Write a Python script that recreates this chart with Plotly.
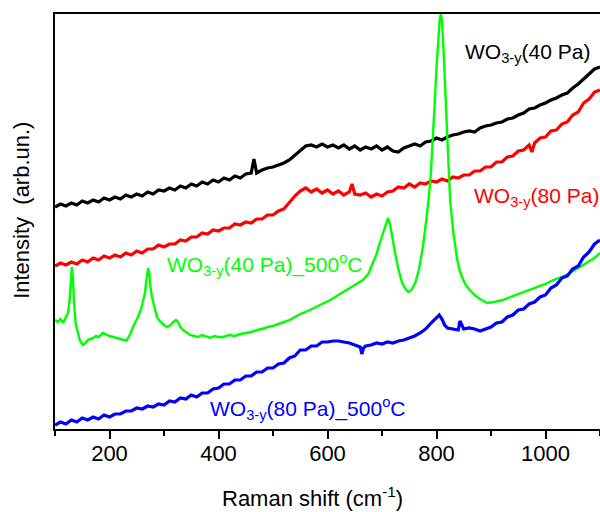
import plotly.graph_objects as go

# ---------------- data ----------------
black_x = [100,110,120,130,140,150,160,170,180,190,200,210,220,230,240,250,260,270,280,290,
           300,310,320,330,340,350,360,370,380,390,400,410,420,430,440,450,460,465,470,480,490,
           500,510,520,530,540,550,560,570,580,590,600,610,620,630,640,650,660,670,680,690,
           700,710,720,730,740,750,760,770,780,790,800,810,820,830,840,850,860,870,880,890,
           900,910,920,930,940,950,960,970,980,990,1000,1010,1020,1030,1040,1050,1060,1070,1080,1090,1100]
black_y = [222,225,223,226,224,228,226,229,227,231,229,232,230,234,232,235,233,237,235,239,
           238,241,239,243,241,245,243,247,245,249,247,251,249,253,251,255,256,270,256,259,261,
           262,264,266,269,274,279,283,284,282,285,282,284,281,284,280,283,279,282,280,283,
           279,282,278,277,281,283,285,283,287,288,291,289,292,294,295,297,298,297,301,303,
           304,306,307,310,311,314,316,320,321,324,326,329,331,334,336,341,345,350,355,360,362]

red_x = [100,110,120,130,140,150,160,170,180,190,200,210,220,230,240,250,260,270,280,290,
         300,310,320,330,340,350,360,370,380,390,400,410,420,430,440,450,460,470,480,490,
         500,510,520,530,540,550,560,570,580,590,600,610,620,630,640,645,650,660,670,680,690,
         700,710,720,730,740,750,760,770,780,790,800,810,820,830,840,850,860,870,880,890,
         900,910,920,930,940,950,960,970,975,980,990,1000,1010,1020,1030,1040,1050,1060,1070,1080,1090,1100]
red_y = [163,166,164,167,165,169,167,171,169,173,171,174,172,176,174,178,176,180,180,184,
         182,185,185,189,188,192,192,196,195,199,198,201,201,205,204,207,206,210,210,214,
         214,218,220,227,233,238,241,237,240,236,239,235,238,234,237,245,235,234,236,232,235,
         233,237,238,242,241,245,242,246,245,248,247,250,248,252,251,254,254,258,258,262,
         262,267,267,272,273,278,279,284,277,286,291,292,298,299,305,307,314,317,326,330,337,339]

green_x = [100,105,110,115,120,124,127,129,131,133,135,138,142,146,151,156,160,165,170,175,
           180,188,195,200,207,214,220,226,232,238,243,248,253,258,262,265,268,271,273,275,
           278,282,287,292,297,302,306,312,317,322,326,330,335,340,348,355,362,370,378,385,
           392,400,408,420,430,440,450,460,471,480,490,500,510,520,531,540,550,560,568,580,
           590,605,620,636,650,665,675,683,690,696,702,707,711,715,719,724,730,737,743,748,
           754,761,768,775,781,786,790,794,797,800,803,806,808,810,813,816,820,825,831,838,
           843,849,855,861,870,880,893,905,922,940,960,984,1000,1014,1030,1045,1060,1076,1090,1100]
green_y = [109,107,110,106,112,116,130,150,162,150,125,105,95,88,84,86,89,90,91,93,
           92,96,94,93,92,91,90,89,89,95,102,107,113,120,128,136,150,161,155,142,
           132,122,112,108,105,103,102,104,107,109,107,102,99,97,94,93,92,94,92,91,
           93,92,92,94,93,95,96,97,99,100,102,103,105,107,109,112,115,117,119,122,
           125,129,134,139,144,149,155,166,175,186,196,205,211,204,190,176,160,146,140,137,
           139,146,160,182,208,232,258,292,329,362,392,410,415,408,378,346,290,229,196,169,
           158,149,143,139,134,130,126,127,129,133,137,142,145,149,152,156,161,166,171,176]

blue_x = [100,110,120,130,140,150,160,170,180,190,200,210,220,230,240,250,260,270,280,290,
          300,310,320,330,340,350,360,370,380,390,400,410,420,430,440,450,460,470,480,490,
          500,510,520,530,540,550,560,570,580,590,600,610,620,630,640,650,660,663,666,670,680,690,
          700,710,720,730,740,750,760,770,780,790,800,805,810,815,820,830,840,843,850,860,870,880,890,
          900,910,920,930,940,950,960,970,980,990,1000,1010,1020,1030,1040,1050,1060,1070,1080,1090,1100]
blue_y = [4,7,5,9,7,11,9,12,10,14,12,15,15,18,18,21,20,23,22,25,
          24,28,27,31,30,34,32,36,36,40,41,45,45,49,49,53,53,57,57,61,
          61,65,66,71,73,79,79,83,83,87,87,88,88,87,86,84,82,75,81,83,84,86,
          85,87,86,88,89,91,93,96,100,106,112,114,110,104,101,100,99,108,100,101,100,98,100,
          102,106,107,112,114,119,120,125,127,132,134,141,144,151,153,160,163,172,177,185,189]

series_names = ["WO<sub>3-y</sub>(40 Pa)", "WO<sub>3-y</sub>(80 Pa)",
                "WO<sub>3-y</sub>(40 Pa)_500<sup>o</sup>C", "WO<sub>3-y</sub>(80 Pa)_500<sup>o</sup>C"]
colors = ["#000000", "#ff0000", "#00ff00", "#0000ff"]
tick_vals = [200, 400, 600, 800, 1000]
tick_text = ["200", "400", "600", "800", "1000"]

FONT = "Liberation Sans, Arial, sans-serif"

fig = go.Figure()
for xs, ys, c, w in [(black_x, black_y, colors[0], 3.2), (red_x, red_y, colors[1], 3.2),
                     (green_x, green_y, colors[2], 2.4), (blue_x, blue_y, colors[3], 3.2)]:
    fig.add_trace(go.Scatter(x=xs, y=ys, mode="lines", line=dict(color=c, width=w), showlegend=False))

# series labels
label_pos = [(849, 376), (865, 232), (302, 164.5), (381, 20.5)]
for name, c, (lx, ly) in zip(series_names, colors, label_pos):
    fig.add_annotation(x=lx, y=ly, xref="x", yref="y", text=name, showarrow=False,
                       xanchor="left", yanchor="middle", font=dict(family=FONT, size=21, color=c))

# axis titles
fig.add_annotation(x=0.4716, y=-0.164, xref="paper", yref="paper", text="Raman shift (cm<sup>-1</sup>)",
                   showarrow=False, xanchor="center", yanchor="middle",
                   font=dict(family=FONT, size=22, color="#000"))
fig.add_annotation(x=-0.0606, y=0.528, xref="paper", yref="paper", text="Intensity  (arb.un.)",
                   showarrow=False, textangle=-90, xanchor="center", yanchor="middle",
                   font=dict(family=FONT, size=22, color="#000"))

fig.update_layout(
    width=600, height=512,
    margin=dict(l=55, r=0, t=14, b=83),
    paper_bgcolor="white", plot_bgcolor="white",
    font=dict(family=FONT, size=22, color="#000"),
    xaxis=dict(range=[100, 1100], showgrid=False, zeroline=False,
               showline=True, linecolor="#000", linewidth=2, mirror=True,
               ticks="outside", ticklen=8, tickwidth=1.5, tickcolor="#000",
               tickvals=tick_vals, ticktext=tick_text, ticklabelstandoff=-4,
               minor=dict(ticks="outside", ticklen=5, tickwidth=1.5, tickcolor="#000",
                          tickvals=[100, 300, 500, 700, 900, 1100]),
               tickfont=dict(family=FONT, size=22, color="#000")),
    yaxis=dict(range=[0, 415], showgrid=False, zeroline=False, showticklabels=False,
               showline=True, linecolor="#000", linewidth=2, ticks=""),
)

fig.write_html("out.html", config={"displayModeBar": False},
               post_script="document.body.style.margin='0';document.body.style.overflow='hidden';")
